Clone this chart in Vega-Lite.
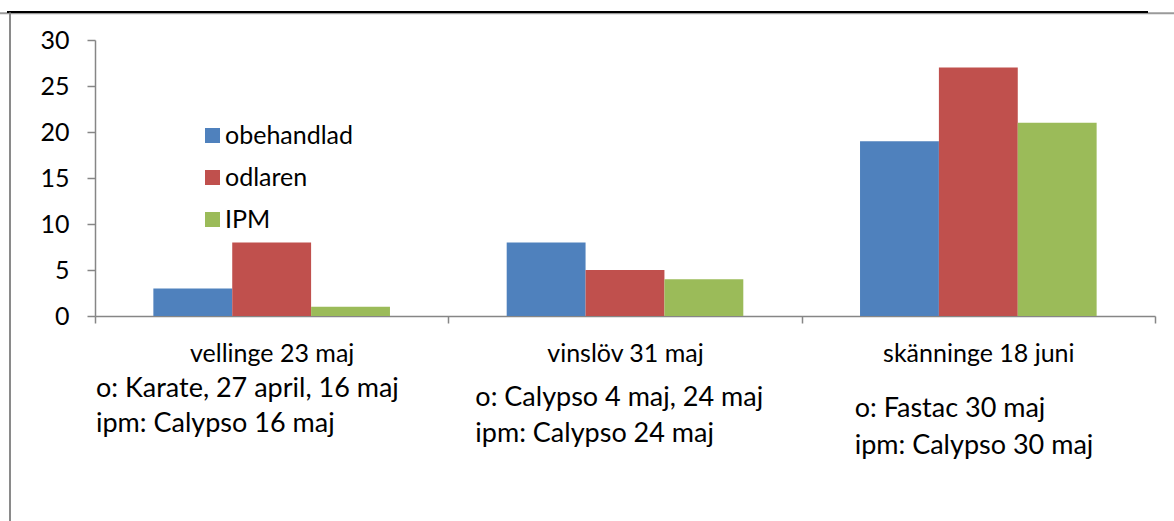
{
  "$schema": "https://vega.github.io/schema/vega-lite/v6.json",
  "width": 1060,
  "height": 276,
  "autosize": {"type": "none"},
  "padding": {"left": 95, "top": 40, "right": 19, "bottom": 205},
  "background": "white",
  "config": {
    "view": {"stroke": null},
    "font": "Lato",
    "axis": {"labelFont": "Lato", "labelColor": "#000000", "domainColor": "#868686", "tickColor": "#868686", "grid": false, "title": null, "labelLimit": 0},
    "legend": {"labelFont": "Lato", "padding": 0}
  },
  "datasets": {
    "bars": [
      {"site": "vellinge 23 maj", "treatment": "obehandlad", "count": 3},
      {"site": "vellinge 23 maj", "treatment": "odlaren", "count": 8},
      {"site": "vellinge 23 maj", "treatment": "IPM", "count": 1},
      {"site": "vinslöv 31 maj", "treatment": "obehandlad", "count": 8},
      {"site": "vinslöv 31 maj", "treatment": "odlaren", "count": 5},
      {"site": "vinslöv 31 maj", "treatment": "IPM", "count": 4},
      {"site": "skänninge 18 juni", "treatment": "obehandlad", "count": 19},
      {"site": "skänninge 18 juni", "treatment": "odlaren", "count": 27},
      {"site": "skänninge 18 juni", "treatment": "IPM", "count": 21}
    ],
    "notes": [
      {"site": "vellinge 23 maj", "note": "o: Karate, 27 april, 16 maj\nipm: Calypso 16 maj"},
      {"site": "vinslöv 31 maj", "note": "o: Calypso 4 maj, 24 maj\nipm: Calypso 24 maj"},
      {"site": "skänninge 18 juni", "note": "o: Fastac 30 maj\nipm: Calypso 30 maj"}
    ],
    "frame": [{"edge": "page"}]
  },
  "layer": [
    {
      "data": {"name": "bars"},
      "mark": {"type": "bar"},
      "encoding": {
        "x": {
          "field": "site", "type": "nominal",
          "scale": {"domain": ["vellinge 23 maj", "vinslöv 31 maj", "skänninge 18 juni"], "paddingInner": 0, "paddingOuter": 0},
          "axis": {"tickBand": "extent", "tickSize": 7, "labelPadding": 18, "labelFontSize": 25, "labelAngle": 0, "labelBaseline": "top", "domainWidth": 1.5, "tickWidth": 1.5}
        },
        "xOffset": {
          "field": "treatment", "type": "nominal",
          "scale": {"domain": ["obehandlad", "odlaren", "IPM"], "paddingInner": 0, "paddingOuter": 0.74}
        },
        "y": {
          "field": "count", "type": "quantitative",
          "scale": {"domain": [0, 30], "nice": false},
          "axis": {"values": [0, 5, 10, 15, 20, 25, 30], "tickSize": 8, "labelPadding": 18, "labelFontSize": 25, "domainWidth": 1.5, "tickWidth": 1.5}
        },
        "color": {
          "field": "treatment", "type": "nominal",
          "scale": {"domain": ["obehandlad", "odlaren", "IPM"], "range": ["#4F81BD", "#C0504D", "#9BBB59"]},
          "legend": {"title": null, "orient": "none", "legendX": 105, "legendY": 83, "symbolType": "square", "symbolSize": 225, "symbolStrokeWidth": 0, "labelFontSize": 25, "labelColor": "#000000", "rowPadding": 16, "labelOffset": 0}
        }
      }
    },
    {
      "data": {"name": "notes"},
      "transform": [{"filter": "datum.site === 'vellinge 23 maj'"}],
      "mark": {"type": "text", "align": "left", "baseline": "alphabetic", "fontSize": 27, "lineHeight": 35, "lineBreak": "\n", "dx": 1, "dy": 81, "color": "#000000"},
      "encoding": {
        "x": {"field": "site", "type": "nominal", "bandPosition": 0},
        "y": {"datum": 0, "type": "quantitative"},
        "text": {"field": "note"}
      }
    },
    {
      "data": {"name": "notes"},
      "transform": [{"filter": "datum.site === 'vinslöv 31 maj'"}],
      "mark": {"type": "text", "align": "left", "baseline": "alphabetic", "fontSize": 27, "lineHeight": 36, "lineBreak": "\n", "dx": 27, "dy": 90, "color": "#000000"},
      "encoding": {
        "x": {"field": "site", "type": "nominal", "bandPosition": 0},
        "y": {"datum": 0, "type": "quantitative"},
        "text": {"field": "note"}
      }
    },
    {
      "data": {"name": "notes"},
      "transform": [{"filter": "datum.site === 'skänninge 18 juni'"}],
      "mark": {"type": "text", "align": "left", "baseline": "alphabetic", "fontSize": 27, "lineHeight": 37, "lineBreak": "\n", "dx": 53, "dy": 101, "color": "#000000"},
      "encoding": {
        "x": {"field": "site", "type": "nominal", "bandPosition": 0},
        "y": {"datum": 0, "type": "quantitative"},
        "text": {"field": "note"}
      }
    },
    {
      "data": {"name": "frame"},
      "mark": {"type": "rule", "color": "#9a9a9a", "strokeWidth": 2, "xOffset": -95, "x2Offset": 19},
      "encoding": {
        "x": {"datum": "vellinge 23 maj", "type": "nominal", "bandPosition": 0},
        "x2": {"datum": "skänninge 18 juni", "bandPosition": 1},
        "y": {"datum": 32.9, "type": "quantitative"}
      }
    },
    {
      "data": {"name": "frame"},
      "mark": {"type": "rule", "color": "#000000", "strokeWidth": 2, "xOffset": -88, "x2Offset": -7},
      "encoding": {
        "x": {"datum": "vellinge 23 maj", "type": "nominal", "bandPosition": 0},
        "x2": {"datum": "skänninge 18 juni", "bandPosition": 1},
        "y": {"datum": 33.05, "type": "quantitative"}
      }
    },
    {
      "data": {"name": "frame"},
      "mark": {"type": "rule", "color": "#8a8a8a", "strokeWidth": 2, "xOffset": -85},
      "encoding": {
        "x": {"datum": "vellinge 23 maj", "type": "nominal", "bandPosition": 0},
        "y": {"datum": 33.0, "type": "quantitative"},
        "y2": {"datum": -25}
      }
    }
  ]
}
